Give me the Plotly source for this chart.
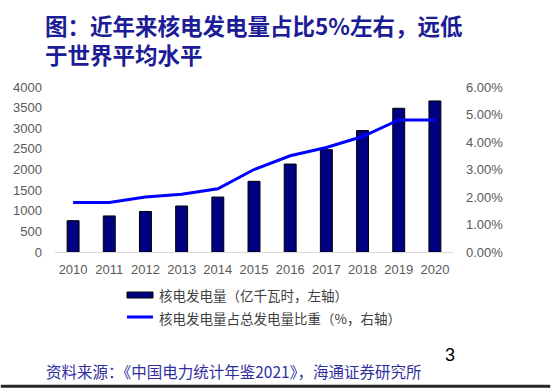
import plotly.graph_objects as go

years = ["2010", "2011", "2012", "2013", "2014", "2015", "2016", "2017", "2018", "2019", "2020"]
nuclear_gen = [759, 874, 983, 1115, 1332, 1714, 2132, 2481, 2944, 3484, 3662]
nuclear_share = [0.018, 0.018, 0.020, 0.021, 0.023, 0.030, 0.035, 0.038, 0.042, 0.048, 0.048]
left_ticks = [0, 500, 1000, 1500, 2000, 2500, 3000, 3500, 4000]
right_ticks = [0, 0.01, 0.02, 0.03, 0.04, 0.05, 0.06]

title_l1 = "图：近年来核电发电量占比5%左右，远低"
title_l2 = "于世界平均水平"
legend_bar = "核电发电量（亿千瓦时，左轴）"
legend_line = "核电发电量占总发电量比重（%，右轴）"
source = "资料来源：《中国电力统计年鉴2021》，海通证券研究所"
page_no = "3"

W, H = 551, 389
L, R, T, B = 55, 453, 87, 252  # plot area in pixels


def px(x):
    return (x - L) / (R - L)


def py(y):
    return (B - y) / (B - T)


CJK = "Noto Sans CJK SC, Liberation Sans, sans-serif"
NUM = "Liberation Sans, Arial, sans-serif"
TICK = dict(family=NUM, size=13, color="#595959")

fig = go.Figure()
fig.add_trace(go.Bar(
    x=years, y=nuclear_gen, name=legend_bar,
    marker=dict(color="#000080", line=dict(color="#000000", width=1)),
    yaxis="y",
))
fig.add_trace(go.Scatter(
    x=years, y=nuclear_share, name=legend_line, mode="lines",
    line=dict(color="#0000FF", width=3),
    yaxis="y2",
))

fig.update_layout(
    width=W, height=H,
    margin=dict(l=L, r=W - R, t=T, b=H - B, pad=0),
    paper_bgcolor="white", plot_bgcolor="white",
    showlegend=False,
    bargap=0.67,
    font=dict(family=NUM, size=13, color="#595959"),
    xaxis=dict(
        type="category", showgrid=False, zeroline=False,
        showline=True, linecolor="#D9D9D9", linewidth=1,
        ticks="", tickfont=TICK, ticklabelstandoff=5,
    ),
    yaxis=dict(
        range=[0, 4000], tickvals=left_ticks, showgrid=False, zeroline=False,
        showline=False, ticks="", tickfont=TICK, ticklabelstandoff=12,
    ),
    yaxis2=dict(
        range=[0, 0.06], tickvals=right_ticks, tickformat=".2%", overlaying="y",
        side="right", showgrid=False, zeroline=False, showline=False, ticks="",
        tickfont=TICK, ticklabelstandoff=12,
    ),
)

shapes = [
    dict(type="rect", xref="paper", yref="paper",
         x0=px(127), x1=px(153), y0=py(298), y1=py(292),
         fillcolor="#000080", line=dict(color="#000000", width=1)),
    dict(type="line", xref="paper", yref="paper",
         x0=px(127), x1=px(153), y0=py(317), y1=py(317),
         line=dict(color="#0000FF", width=3)),
    dict(type="rect", xref="paper", yref="paper",
         x0=px(1), x1=px(W - 1), y0=py(387.5), y1=py(385),
         fillcolor="#262626", line=dict(color="#262626", width=0.5), layer="above"),
]

annotations = [
    dict(text=title_l1, x=px(43), y=py(25), xref="paper", yref="paper",
         xanchor="left", yanchor="middle", showarrow=False,
         font=dict(family=CJK, size=22.5, color="#1C1C96", weight="bold")),
    dict(text=title_l2, x=px(43), y=py(54), xref="paper", yref="paper",
         xanchor="left", yanchor="middle", showarrow=False,
         font=dict(family=CJK, size=22.5, color="#1C1C96", weight="bold")),
    dict(text=legend_bar, x=px(157), y=py(295), xref="paper", yref="paper",
         xanchor="left", yanchor="middle", showarrow=False,
         font=dict(family=CJK, size=13.5, color="#404040")),
    dict(text=legend_line, x=px(157), y=py(318), xref="paper", yref="paper",
         xanchor="left", yanchor="middle", showarrow=False,
         font=dict(family=CJK, size=13.5, color="#404040")),
    dict(text=source, x=px(44), y=py(371), xref="paper", yref="paper",
         xanchor="left", yanchor="middle", showarrow=False,
         font=dict(family=CJK, size=15.5, color="#2E2E9E")),
    dict(text=page_no, x=px(450), y=py(355), xref="paper", yref="paper",
         xanchor="center", yanchor="middle", showarrow=False,
         font=dict(family=NUM, size=18, color="#000000")),
]

fig.update_layout(shapes=shapes, annotations=annotations)
fig.write_html(
    "out.html",
    config={"displayModeBar": False},
    post_script="document.body.style.margin='0';document.body.style.overflow='hidden';",
)
